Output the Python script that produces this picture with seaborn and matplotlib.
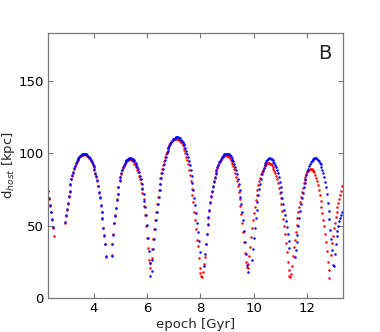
import numpy as np
import pandas as pd
import matplotlib
matplotlib.use("Agg")
import matplotlib.pyplot as plt
import seaborn as sns

n = np.nan

epoch = [
    2.30, 2.33, 2.37, 2.40, 2.43, 2.47, 2.50, 2.53, 2.57, 2.60, 2.63, 2.67, 2.70, 2.73, 2.77,
    2.80, 2.83, 2.87, 2.90, 2.93, 2.97, 3.00, 3.03, 3.07, 3.10, 3.13, 3.17, 3.20, 3.23, 3.27,
    3.30, 3.33, 3.37, 3.40, 3.43, 3.47, 3.50, 3.53, 3.57, 3.60, 3.63, 3.67, 3.70, 3.73, 3.77,
    3.80, 3.83, 3.87, 3.90, 3.93, 3.97, 4.00, 4.03, 4.07, 4.10, 4.13, 4.17, 4.20, 4.23, 4.27,
    4.30, 4.33, 4.37, 4.40, 4.43, 4.47, 4.50, 4.53, 4.57, 4.60, 4.63, 4.67, 4.70, 4.73, 4.77,
    4.80, 4.83, 4.87, 4.90, 4.93, 4.97, 5.00, 5.03, 5.07, 5.10, 5.13, 5.17, 5.20, 5.23, 5.27,
    5.30, 5.33, 5.37, 5.40, 5.43, 5.47, 5.50, 5.53, 5.57, 5.60, 5.63, 5.67, 5.70, 5.73, 5.77,
    5.80, 5.83, 5.87, 5.90, 5.93, 5.97, 6.00, 6.03, 6.07, 6.10, 6.13, 6.17, 6.20, 6.23, 6.27,
    6.30, 6.33, 6.37, 6.40, 6.43, 6.47, 6.50, 6.53, 6.57, 6.60, 6.63, 6.67, 6.70, 6.73, 6.77,
    6.80, 6.83, 6.87, 6.90, 6.93, 6.97, 7.00, 7.03, 7.07, 7.10, 7.13, 7.17, 7.20, 7.23, 7.27,
    7.30, 7.33, 7.37, 7.40, 7.43, 7.47, 7.50, 7.53, 7.57, 7.60, 7.63, 7.67, 7.70, 7.73, 7.77,
    7.80, 7.83, 7.87, 7.90, 7.93, 7.97, 8.00, 8.03, 8.07, 8.10, 8.13, 8.17, 8.20, 8.23, 8.27,
    8.30, 8.33, 8.37, 8.40, 8.43, 8.47, 8.50, 8.53, 8.57, 8.60, 8.63, 8.67, 8.70, 8.73, 8.77,
    8.80, 8.83, 8.87, 8.90, 8.93, 8.97, 9.00, 9.03, 9.07, 9.10, 9.13, 9.17, 9.20, 9.23, 9.27,
    9.30, 9.33, 9.37, 9.40, 9.43, 9.47, 9.50, 9.53, 9.57, 9.60, 9.63, 9.67, 9.70, 9.73, 9.77,
    9.80, 9.83, 9.87, 9.90, 9.93, 9.97, 10.00, 10.03, 10.07, 10.10, 10.13, 10.17, 10.20, 10.23, 10.27,
    10.30, 10.33, 10.37, 10.40, 10.43, 10.47, 10.50, 10.53, 10.57, 10.60, 10.63, 10.67, 10.70, 10.73, 10.77,
    10.80, 10.83, 10.87, 10.90, 10.93, 10.97, 11.00, 11.03, 11.07, 11.10, 11.13, 11.17, 11.20, 11.23, 11.27,
    11.30, 11.33, 11.37, 11.40, 11.43, 11.47, 11.50, 11.53, 11.57, 11.60, 11.63, 11.67, 11.70, 11.73, 11.77,
    11.80, 11.83, 11.87, 11.90, 11.93, 11.97, 12.00, 12.03, 12.07, 12.10, 12.13, 12.17, 12.20, 12.23, 12.27,
    12.30, 12.33, 12.37, 12.40, 12.43, 12.47, 12.50, 12.53, 12.57, 12.60, 12.63, 12.67, 12.70, 12.73, 12.77,
    12.80, 12.83, 12.87, 12.90, 12.93, 12.97, 13.00, 13.03, 13.07, 13.10, 13.13, 13.17, 13.20, 13.23, 13.27,
    13.30,
]

d_blue = [
    74, 69, 64, 59.5, 54.5, 48.8, n, n, n, n, n, n, n, n, n,
    n, n, n, n, 52.5, 57, 61.3, 65.5, 70.5, 73.8, 78.5, 82.3, 84.9, 87, 89.6,
    91.3, 92.9, 94.6, 95.6, 96.5, 97.5, 98.2, 98.7, 99.2, 99.4, 99.5, 99.5, 99.3, 99.1, 98.5,
    98, 97.3, 96.3, 95.3, 94.1, 92.4, 90.8, 89, 86.3, 84.1, 81.5, 77.5, 73, 69.5, 64,
    59.5, 55, 48.5, 43.5, 37.5, 29, n, n, n, n, n, 29, 37, 43.7, 51.8,
    56.8, 61.8, 67.9, 71.6, 76.8, 81.4, 83.6, 86, 88.6, 90.4, 91.8, 93.3, 94.3, 95.1, 95.8,
    96.2, 96.4, 96.5, 96.4, 96.1, 95.6, 95, 94.2, 93.2, 92, 90.6, 88.8, 86.8, 84.5, 81.8,
    78.8, 75.5, 71.5, 67, 62.5, 57, 50.5, 41.5, 32.5, 24.2, 15, 18.5, 26.5, 34, 41,
    47.5, 53.5, 59.5, 65, 70, 74.5, 78.5, 82.5, 86, 89.2, 92.2, 95, 97.5, 99.7, 101.7,
    103.5, 105, 106.4, 107.6, 108.6, 109.4, 110, 110.5, 110.8, 111, 111, 110.8, 110.5, 110.1, 109.3,
    108.5, 107.7, 106.3, 105.2, 103.8, 101.5, 99.6, 97.4, 94.3, 91.6, 88.6, 84, 79, 74.8, 68.7,
    64, 58.7, 51.4, 45.5, 39, 31.7, n, n, n, n, 22, 30.5, 37.5, 44.3, 51.2,
    56, 60.5, 66.2, 70.2, 74, 77.5, 80.7, 83.5, 86, 88.2, 90.2, 92, 93.5, 94.8, 96,
    97, 97.9, 98.6, 99.1, 99.4, 99.5, 99.5, 99.35, 99, 98.4, 97.7, 96.5, 95.4, 94.2, 92.2,
    90.2, 88.1, 85.3, 82.2, 78.5, 74.5, 70, 65, 59.5, 53.5, 46.5, 38.5, 30.5, 22.5, 17.6,
    n, n, n, n, 26, 34, 41.5, 48.5, 55, 60.8, 66, 70.8, 75, 78.8, 82.2,
    85.2, 87.8, 90, 91.9, 93.4, 94.6, 95.5, 96.1, 96.5, 96.5, 96.2, 95.7, 95, 94.1, 93,
    91.8, 90.2, 88.3, 86, 83.3, 80.2, 76.8, 73, 69, 65, 61, 57, 53, 48.7, 44,
    39.5, 34.5, n, n, n, n, n, 28, 33, 38.5, 43.5, 49.6, 55, 60, 64.5,
    68.8, 72.7, 76.3, 79.5, 82.4, 85, 87.3, 89.3, 91, 92.5, 93.7, 94.7, 95.5, 96, 96.4,
    96.5, 96.4, 96, 95.3, 94.7, 93.3, 92.1, 90.6, 88.2, 86, 83.5, 79.8, 76.3, 71.5, 65.3,
    60.2, 54.8, 47, 40.5, 33, 22.5, 22, 30.6, 37.4, 42.5, 46.5, 50, 53, 55.5, 57.5,
    59.5,
]

d_red = [
    73.5, 68.5, 63.5, 59, 54, 48.3, 42.7, n, n, n, n, n, n, n, n,
    n, n, n, n, 52, 56.5, 60.8, 65, 70, 73.3, 78, 81.8, 84.4, 86.5, 89.1,
    90.8, 92.4, 94.1, 95.1, 96, 97, 97.7, 98.2, 98.7, 98.9, 99, 99, 98.8, 98.6, 98,
    97.5, 96.8, 95.8, 94.8, 93.6, 91.9, 90.3, 88.5, 85.8, 83.6, 81, 77, 72.5, 69, 63.5,
    59, 54.5, 48, 43, 37, 28.5, n, n, n, n, n, 29.5, 37.5, 44, 52,
    57, 62, 68, 71.7, 76.5, 81, 83.2, 85.6, 88.2, 90, 91.3, 92.7, 93.7, 94.5, 95.1,
    95.5, 95.7, 95.7, 95.3, 94.9, 94.3, 93.6, 92.7, 91.5, 90.2, 88.6, 86.6, 84.4, 81.9, 79,
    75.8, 72.2, 68, 63.5, 57.5, 50, 41.6, 34.5, 26.5, 21, 24, 27.5, 34, 41, 47.5,
    53.5, 59.5, 65, 70, 74.5, 78.5, 82.5, 86, 89, 92, 94.6, 97, 99, 100.9, 102.6,
    104, 105.4, 106.6, 107.6, 108.4, 109, 109.5, 109.8, 110, 110, 109.8, 109.5, 109.1, 108.5, 107.6,
    106.6, 105.4, 103.6, 102, 100.2, 97.5, 95, 92.3, 88.5, 85, 81, 75.5, 70.8, 66, 59.5,
    53.5, 47.5, 40, 35.6, 27.9, 21, 17, 15, 14.2, 17.8, 23.3, 28.3, 37, 44, 50.5,
    55.5, 60, 65.5, 69.5, 73, 76.8, 80, 83, 85.6, 87.8, 89.7, 91.4, 92.9, 94.2, 95.4,
    96.4, 97.3, 97.9, 98.3, 98.5, 98.4, 98.2, 97.8, 97.2, 96.4, 95.4, 94, 92.7, 91, 89,
    86.5, 83.8, 80.5, 77, 73, 68.5, 63.5, 58, 52, 45.5, 38.5, 31, 25, 21.5, 21,
    23.5, 29, 35.5, 42, 48, 53.5, 58.5, 63, 67.3, 71.2, 74.7, 77.8, 80.6, 83.1, 85.2,
    87, 88.6, 89.9, 90.9, 91.8, 92.4, 92.8, 93, 93, 92.7, 92.2, 91.4, 90.4, 89.2, 87.8,
    86.2, 84.3, 82, 79.3, 76.2, 72.7, 68.8, 64.5, 59.8, 54.8, 49.5, 44, 38, 31.5, 25,
    19.5, 15.5, 14.2, 16.5, 22, 29, 35, 40, 45.5, 50.5, 55, 59, 63, 66.5, 70,
    73, 76, 79, 81.5, 83.5, 85.3, 86.7, 87.8, 88.6, 89, 89.2, 89.1, 88.6, 87.9, 86.7,
    85, 83, 80.5, 77.8, 74.5, 71, 67, 63, 58.5, 54, 49.5, 44, 38.5, 32.5, 25,
    19, 14, n, 30, 38, 43, 48, 52, 56, 59.5, 62.5, 65.5, 68.5, 71, 74,
    77,
]

x_ticks = [4, 6, 8, 10, 12]
y_ticks = [0, 50, 100, 150]
panel_label = "B"

sns.set_style("white")
plt.rcParams.update({
    "font.family": ["DejaVu Sans"],
    "mathtext.fontset": "dejavusans",
    "xtick.direction": "in",
    "ytick.direction": "in",
    "xtick.top": True,
    "ytick.right": True,
    "xtick.bottom": True,
    "ytick.left": True,
    "xtick.major.size": 3.5,
    "ytick.major.size": 3.5,
    "xtick.color": "#777777",
    "ytick.color": "#777777",
    "xtick.labelcolor": "black",
    "ytick.labelcolor": "black",
    "axes.edgecolor": "#777777",
    "axes.linewidth": 0.9,
})

df_red = pd.DataFrame({"epoch": epoch, "d": d_red}).dropna()
df_blue = pd.DataFrame({"epoch": epoch, "d": d_blue}).dropna()

fig = plt.figure(figsize=(3.8, 3.32), dpi=100)
ax = fig.add_axes([0.1255, 0.1024, 0.7765, 0.7991])

sns.scatterplot(data=df_red, x="epoch", y="d", color="#ff0000", s=3.2,
                linewidth=0, ax=ax, legend=False)
sns.scatterplot(data=df_blue, x="epoch", y="d", color="#0000ff", s=3.2,
                linewidth=0, ax=ax, legend=False)

ax.set_xlim(2.28, 13.33)
ax.set_ylim(0, 183)
ax.set_xticks(x_ticks)
ax.set_yticks(y_ticks)
ax.tick_params(labelsize=9.5, pad=3)
ax.set_xlabel("epoch [Gyr]", fontsize=9.5, labelpad=2)
ax.set_ylabel(r"d$_{host}$ [kpc]", fontsize=9.5)
ax.yaxis.set_label_coords(-0.104, 0.5)
ax.text(0.94, 0.923, panel_label, transform=ax.transAxes, fontsize=14,
        ha="center", va="center")

fig.savefig("out.png", dpi=100)
